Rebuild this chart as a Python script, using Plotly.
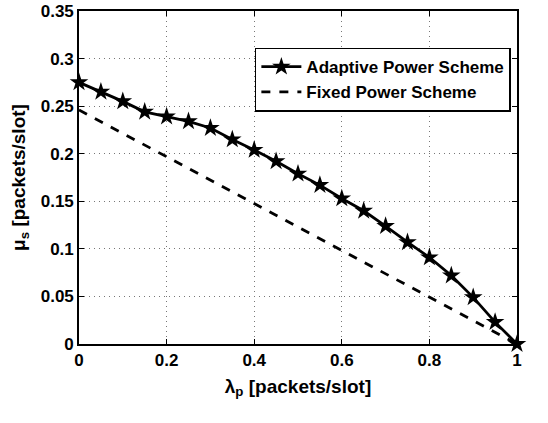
import plotly.graph_objects as go

lam_adaptive = [0, 0.05, 0.1, 0.15, 0.2, 0.25, 0.3, 0.35, 0.4, 0.45, 0.5,
                0.55, 0.6, 0.65, 0.7, 0.75, 0.8, 0.85, 0.9, 0.95, 1.0]
mu_adaptive = [0.275, 0.265, 0.255, 0.244, 0.239, 0.234, 0.227, 0.215, 0.204, 0.192, 0.179,
               0.167, 0.153, 0.140, 0.124, 0.107, 0.091, 0.072, 0.049, 0.023, 0.0]
lam_fixed = [0, 1.0]
mu_fixed = [0.246, 0.0]

x_ticks = [0, 0.2, 0.4, 0.6, 0.8, 1]
x_ticklabels = ["0", "0.2", "0.4", "0.6", "0.8", "1"]
y_ticks = [0, 0.05, 0.1, 0.15, 0.2, 0.25, 0.3, 0.35]
y_ticklabels = ["0", "0.05", "0.1", "0.15", "0.2", "0.25", "0.3", "0.35"]

FONT = "Liberation Sans"

fig = go.Figure()
fig.add_trace(go.Scatter(
    x=lam_adaptive, y=mu_adaptive, mode="lines+markers",
    name="<b>Adaptive Power Scheme</b>",
    line=dict(color="black", width=2.8),
    marker=dict(symbol="star", size=14, color="black", line=dict(width=0)),
    cliponaxis=False,
))
fig.add_trace(go.Scatter(
    x=lam_fixed, y=mu_fixed, mode="lines",
    name="<b>Fixed Power Scheme</b>",
    line=dict(color="black", width=2.8, dash="dash"),
    cliponaxis=False,
))

axis_common = dict(
    showline=True, linecolor="black", linewidth=1.6, mirror="ticks",
    ticks="inside", ticklen=5, tickcolor="black", tickwidth=1,
    showgrid=True, gridcolor="#777777", griddash="1px,4px", gridwidth=1,
    zeroline=False, automargin=False, ticklabeloverflow="allow",
    tickfont=dict(family=FONT, size=17, color="black", weight="bold"),
)

fig.update_xaxes(
    range=[0, 1], tickvals=x_ticks, ticktext=x_ticklabels,
    title=dict(text="<b>λ<sub>p</sub> [packets/slot]</b>",
               font=dict(family=FONT, size=19, color="black"), standoff=10),
    **axis_common,
)
fig.update_yaxes(
    range=[0, 0.35], tickvals=y_ticks, ticktext=y_ticklabels,
    title=dict(text="<b>μ<sub>s</sub> [packets/slot]</b>",
               font=dict(family=FONT, size=19, color="black"), standoff=10),
    **axis_common,
)

fig.update_layout(
    width=548, height=423,
    margin=dict(l=79, r=31, t=11, b=79),
    paper_bgcolor="white", plot_bgcolor="white",
    showlegend=True,
    legend=dict(
        x=0.986, y=0.89, xanchor="right", yanchor="top",
        bgcolor="white", bordercolor="black", borderwidth=1.5,
        font=dict(family=FONT, size=17, color="black"),
        itemwidth=40, tracegroupgap=0,
    ),
)

fig.write_html(
    "out.html",
    config={"displayModeBar": False},
    post_script="document.body.style.margin='0';document.body.style.padding='0';",
)
